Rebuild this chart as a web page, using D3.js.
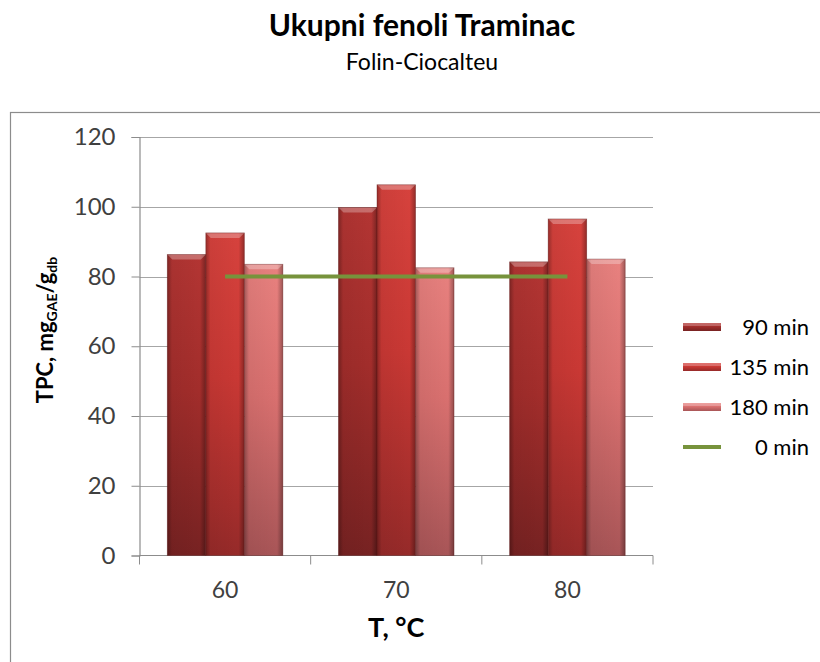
<!DOCTYPE html>
<html lang="hr">
<head>
  <meta charset="UTF-8">
  <title>Ukupni fenoli Traminac</title>
  <script src="https://d3js.org/d3.v7.min.js"></script>
  <style>
    body { margin:0; background:#fff; }
    svg { display:block; font-family: Lato, "Open Sans", sans-serif; }
  </style>
</head>
<body>
  <script>
    // data
    const categories = ["60", "70", "80"];
    const seriesNames = ["90 min", "135 min", "180 min"];
    const min90  = [86.3, 99.8, 84.2];
    const min135 = [92.5, 106.3, 96.5];
    const min180 = [83.5, 82.5, 85.0];
    const min0   = [80, 80, 80];
    const yTicks = [0, 20, 40, 60, 80, 100, 120];

    const barSeries = [min90, min135, min180];
    const colors = [
      {top:"#b33533", mid:"#a22d2b", bot:"#772222"},
      {top:"#d6423d", mid:"#c93834", bot:"#962a29"},
      {top:"#e8817f", mid:"#d9706f", bot:"#a85557"}
    ];

    const width = 820, height = 662;
    const plot = {left:139.5, right:653, top:137, bottom:555.5};

    const svg = d3.select("body").append("svg")
      .attr("width", width).attr("height", height);

    const defs = svg.append("defs");
    colors.forEach((c, i) => {
      const g = defs.append("linearGradient").attr("id", "v" + i)
        .attr("x1", 0).attr("y1", 0).attr("x2", 0).attr("y2", 1);
      g.append("stop").attr("offset", "0%").attr("stop-color", c.top);
      g.append("stop").attr("offset", "45%").attr("stop-color", c.mid);
      g.append("stop").attr("offset", "100%").attr("stop-color", c.bot);
    });
    // side shading for the bevel look
    const side = defs.append("linearGradient").attr("id", "side")
      .attr("x1", 0).attr("y1", 0).attr("x2", 1).attr("y2", 0);
    side.append("stop").attr("offset", "0%").attr("stop-color", "#000").attr("stop-opacity", 0.3);
    side.append("stop").attr("offset", "12%").attr("stop-color", "#000").attr("stop-opacity", 0.05);
    side.append("stop").attr("offset", "85%").attr("stop-color", "#000").attr("stop-opacity", 0.0);
    side.append("stop").attr("offset", "100%").attr("stop-color", "#000").attr("stop-opacity", 0.32);

    // outer chart frame
    svg.append("rect")
      .attr("x", 10.5).attr("y", 112.5).attr("width", 830).attr("height", 600)
      .attr("fill", "none").attr("stroke", "#8c8c8c").attr("stroke-width", 1.2);

    // titles
    svg.append("text").attr("x", 422).attr("y", 36).attr("text-anchor", "middle")
      .attr("font-size", 30).attr("font-weight", "bold").attr("fill", "#000")
      .text("Ukupni fenoli Traminac");
    svg.append("text").attr("x", 422).attr("y", 70).attr("text-anchor", "middle")
      .attr("font-size", 23).attr("fill", "#000")
      .text("Folin-Ciocalteu");

    const y = d3.scaleLinear().domain([0, 120]).range([plot.bottom, plot.top]);
    const x0 = d3.scaleBand().domain(categories).range([plot.left, plot.right])
      .paddingInner(0.325).paddingOuter(0.1625);
    const x1 = d3.scaleBand().domain(seriesNames).range([0, x0.bandwidth()]);

    // gridlines
    svg.append("g").selectAll("line").data(yTicks.filter(t => t > 0)).join("line")
      .attr("x1", plot.left).attr("x2", plot.right)
      .attr("y1", d => Math.round(y(d)) + 0.5).attr("y2", d => Math.round(y(d)) + 0.5)
      .attr("stroke", "#a6a6a6").attr("stroke-width", 1.2);

    // y axis
    const yAxis = svg.append("g").attr("transform", `translate(${plot.left},0)`)
      .call(d3.axisLeft(y).tickValues(yTicks).tickSize(8).tickPadding(16));
    yAxis.select(".domain").attr("stroke", "#8c8c8c").attr("stroke-width", 1.2);
    yAxis.selectAll(".tick line").attr("stroke", "#8c8c8c");
    yAxis.selectAll(".tick text").attr("font-size", 24).attr("fill", "#404040")
      .attr("font-family", "Lato, sans-serif");

    // x axis with ticks between categories
    const step = x0.step();
    const xg = svg.append("g");
    xg.append("line").attr("x1", plot.left).attr("x2", plot.right)
      .attr("y1", plot.bottom).attr("y2", plot.bottom)
      .attr("stroke", "#8c8c8c").attr("stroke-width", 1.2);
    xg.selectAll(".xt").data(d3.range(categories.length + 1)).join("line")
      .attr("x1", i => plot.left + i * step).attr("x2", i => plot.left + i * step)
      .attr("y1", plot.bottom).attr("y2", plot.bottom + 9)
      .attr("stroke", "#8c8c8c");
    xg.selectAll("text").data(categories).join("text")
      .attr("x", d => x0(d) + x0.bandwidth() / 2).attr("y", 598)
      .attr("text-anchor", "middle").attr("font-size", 23).attr("fill", "#404040")
      .text(d => d);

    // bars
    barSeries.forEach((vals, si) => {
      const g = svg.append("g");
      const bars = g.selectAll("g").data(vals.map((v, ci) => ({v, c: categories[ci]}))).join("g")
        .attr("transform", d => `translate(${x0(d.c) + x1(seriesNames[si])},${y(d.v)})`);
      const w = x1.bandwidth();
      bars.append("rect").attr("width", w).attr("height", d => y(0) - y(d.v))
        .attr("fill", `url(#v${si})`);
      bars.append("rect").attr("width", w).attr("height", d => y(0) - y(d.v))
        .attr("fill", "url(#side)");
      // top bevel highlight
      bars.append("path")
        .attr("d", `M0,0 L${w},0 L${w - 5},5 L5,5 Z`)
        .attr("fill", "#fff").attr("fill-opacity", 0.28);
      bars.append("rect").attr("width", w).attr("height", d => y(0) - y(d.v))
        .attr("fill", "none").attr("stroke", "#5a1414").attr("stroke-opacity", 0.45)
        .attr("stroke-width", 0.8);
    });

    // 0 min line
    const line = d3.line()
      .x((d, i) => x0(categories[i]) + x0.bandwidth() / 2)
      .y(d => y(d));
    svg.append("path").datum(min0).attr("d", line)
      .attr("fill", "none").attr("stroke", "#77933c").attr("stroke-width", 4);

    // axis titles
    svg.append("text").attr("x", plot.left + (plot.right - plot.left) / 2).attr("y", 637)
      .attr("text-anchor", "middle").attr("font-size", 27).attr("font-weight", "bold")
      .text("T, °C");
    const yt = svg.append("text")
      .attr("transform", "translate(53,330) rotate(-90)")
      .attr("text-anchor", "middle").attr("font-size", 22).attr("font-weight", "bold");
    yt.append("tspan").text("TPC, mg");
    yt.append("tspan").attr("font-size", 14).attr("dy", 4).text("GAE");
    yt.append("tspan").attr("dy", -4).text("/g");
    yt.append("tspan").attr("font-size", 14).attr("dy", 4).text("db");

    // legend
    const legendItems = seriesNames.concat(["0 min"]);
    const lg = svg.append("g").selectAll("g").data(legendItems).join("g")
      .attr("transform", (d, i) => `translate(683,${327 + i * 40})`);
    lg.each(function(d, i) {
      const s = d3.select(this);
      if (i < 3) {
        s.append("rect").attr("x", 0).attr("y", -4).attr("width", 38).attr("height", 8)
          .attr("fill", `url(#v${i})`);
        s.append("rect").attr("x", 0).attr("y", -4).attr("width", 38).attr("height", 3)
          .attr("fill", "#fff").attr("fill-opacity", 0.25);
      } else {
        s.append("line").attr("x1", 0).attr("x2", 38).attr("y1", 0).attr("y2", 0)
          .attr("stroke", "#77933c").attr("stroke-width", 4);
      }
      s.append("text").attr("x", 126).attr("y", 8).attr("text-anchor", "end")
        .attr("font-size", 22).attr("fill", "#000").text(d);
    });
  </script>
</body>
</html>
